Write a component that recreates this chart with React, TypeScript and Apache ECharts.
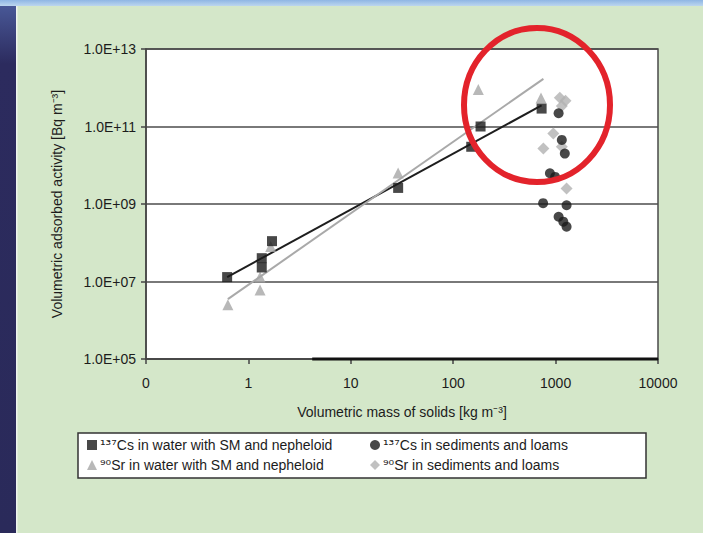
import { useEffect, useRef } from 'react';
import * as echarts from 'echarts';

// Volumetric mass of solids [kg m-3] and volumetric adsorbed activity [Bq m-3]
const CS_WATER_X = [0.62, 1.35, 1.35, 1.7, 29, 150, 185, 730];
const CS_WATER_Y = [1.3e7, 4.0e7, 2.3e7, 1.1e8, 2.6e9, 3.0e10, 1.0e11, 2.9e11];

const SR_WATER_X = [0.63, 1.3, 1.3, 1.65, 29, 176, 720];
const SR_WATER_Y = [2.5e6, 6.0e6, 1.3e7, 8.0e7, 6.3e9, 9.0e11, 5.4e11];

const CS_SED_X = [1070, 1150, 1230, 880, 990, 755, 1280, 1070, 1190, 1280];
const CS_SED_Y = [2.2e11, 4.5e10, 2.0e10, 6.2e9, 5.0e9, 1.05e9, 9.3e8, 4.7e8, 3.5e8, 2.6e8];

const SR_SED_X = [1100, 1250, 1150, 950, 1150, 760, 1280];
const SR_SED_Y = [5.5e11, 4.6e11, 3.4e11, 6.6e10, 3.0e10, 2.7e10, 2.5e9];

// power-law trend lines (straight in log-log)
const CS_TREND_X = [0.62, 730];
const CS_TREND_Y = [1.3e7, 3.5e11];
const SR_TREND_X = [0.63, 760];
const SR_TREND_Y = [3.5e6, 1.7e12];

// heavy segment along the bottom of the plot
const BASE_X = [4.2, 10000];
const BASE_Y = [1e5, 1e5];

const NAMES = [
  '¹³⁷Cs in water with SM and nepheloid',
  '¹³⁷Cs in sediments and loams',
  '⁹⁰Sr in water with SM and nepheloid',
  '⁹⁰Sr in sediments and loams',
];

// y axis shows decades of activity, labelled every second power of ten
const Y_MIN_EXP = 5;
const Y_MAX_EXP = 13;
const yPos = (v: number) => Math.log10(v) - Y_MIN_EXP;
const pairs = (xs: number[], ys: number[]) => xs.map((x, i) => [x, yPos(ys[i])]);

const FONT = 'Liberation Sans, Arial, sans-serif';
const TEXT = '#1c1c1c';

// isotope mass numbers are set in a font that has every superscript digit
const legendFormatter = (name: string) => {
  const m = name.match(/^([⁰¹²³⁴⁵⁶⁷⁸⁹]+)(.*)$/);
  return m ? `{sup|${m[1]}}{t|${m[2]}}` : name;
};

export default function App() {
  const ref = useRef<HTMLDivElement>(null);

  useEffect(() => {
    if (!ref.current) return;
    const chart = echarts.init(ref.current, undefined, { renderer: 'svg' });

    const textStyle = { fontFamily: FONT, fontSize: 14, color: TEXT };
    const legendText = {
      ...textStyle,
      padding: [0, 0, 0, -2],
      rich: {
        sup: { fontFamily: 'DejaVu Sans', fontSize: 14, color: TEXT },
        t: { fontFamily: FONT, fontSize: 14, color: TEXT },
      },
    };

    chart.setOption({
      animation: false,
      backgroundColor: '#d4e7c9',
      textStyle: { fontFamily: FONT },
      grid: {
        left: 146,
        top: 49,
        width: 512,
        height: 310,
        show: true,
        backgroundColor: '#ffffff',
        borderColor: '#4a4a4a',
        borderWidth: 1.5,
      },
      xAxis: {
        type: 'log',
        logBase: 10,
        min: 0.1,
        max: 10000,
        splitNumber: 5,
        name: 'Volumetric mass of solids [kg m⁻³]',
        nameLocation: 'middle',
        nameGap: 46,
        nameTextStyle: textStyle,
        axisLine: { show: true, lineStyle: { color: '#444', width: 1.5 } },
        axisTick: { show: true, inside: false, length: 5, lineStyle: { color: '#444', width: 1.5 } },
        minorTick: { show: false },
        splitLine: { show: false },
        axisLabel: {
          ...textStyle,
          margin: 17,
          formatter: (v: number) => (v < 0.5 ? '0' : String(Math.round(v))),
        },
      },
      yAxis: {
        type: 'value',
        min: 0,
        max: Y_MAX_EXP - Y_MIN_EXP,
        interval: 2,
        name: 'Volumetric adsorbed activity [Bq m⁻³]',
        nameLocation: 'middle',
        nameGap: 82,
        nameTextStyle: textStyle,
        axisLine: { show: true, lineStyle: { color: '#444', width: 1.5 } },
        axisTick: { show: true, inside: false, length: 5, lineStyle: { color: '#444', width: 1.5 } },
        splitLine: { show: true, lineStyle: { color: '#4d4d4d', width: 1.5 } },
        axisLabel: {
          ...textStyle,
          margin: 10,
          formatter: (v: number) => '1.0E+' + String(Math.round(v) + Y_MIN_EXP).padStart(2, '0'),
        },
      },
      legend: [
        {
          orient: 'vertical',
          left: 82,
          top: 433,
          itemGap: 6,
          itemWidth: 10,
          itemHeight: 10,
          data: [NAMES[0], NAMES[2]],
          formatter: legendFormatter,
          textStyle: legendText,
          z: 10,
        },
        {
          orient: 'vertical',
          left: 365,
          top: 433,
          itemGap: 6,
          itemWidth: 10,
          itemHeight: 10,
          data: [NAMES[1], NAMES[3]],
          formatter: legendFormatter,
          textStyle: legendText,
          z: 10,
        },
      ],
      graphic: [
        // slide edge strip and top band
        {
          type: 'rect',
          shape: { x: 0, y: 0, width: 16, height: 533 },
          style: {
            fill: new echarts.graphic.LinearGradient(0, 0, 0, 1, [
              { offset: 0, color: '#4b5c9c' },
              { offset: 0.12, color: '#2c2b5e' },
              { offset: 1, color: '#2a2a5a' },
            ]),
          },
          z: 0,
        },
        { type: 'rect', shape: { x: 16, y: 0, width: 1.5, height: 533 }, style: { fill: '#eef4ee' }, z: 0 },
        {
          type: 'rect',
          shape: { x: 0, y: 0, width: 703, height: 6 },
          style: {
            fill: new echarts.graphic.LinearGradient(0, 0, 0, 1, [
              { offset: 0, color: '#8fb6e4' },
              { offset: 1, color: '#bcd6ee' },
            ]),
          },
          z: 0,
        },
        // legend frame
        {
          type: 'rect',
          shape: { x: 78, y: 433, width: 568, height: 45 },
          style: { fill: '#ffffff', stroke: '#333333', lineWidth: 1.5 },
          z: 0,
        },
        // highlight ring around the dense cluster
        {
          type: 'ellipse',
          shape: { cx: 537, cy: 105, rx: 73, ry: 77 },
          style: { fill: 'none', stroke: '#e3232b', lineWidth: 6 },
          z: 100,
        },
      ],
      series: [
        {
          name: 'Cs trend',
          type: 'line',
          data: pairs(CS_TREND_X, CS_TREND_Y),
          showSymbol: false,
          silent: true,
          lineStyle: { color: '#1e1e1e', width: 2 },
          z: 3,
        },
        {
          name: 'Sr trend',
          type: 'line',
          data: pairs(SR_TREND_X, SR_TREND_Y),
          showSymbol: false,
          silent: true,
          lineStyle: { color: '#a9a9a9', width: 2 },
          z: 3,
        },
        {
          name: 'base',
          type: 'line',
          data: pairs(BASE_X, BASE_Y),
          showSymbol: false,
          silent: true,
          clip: false,
          lineStyle: { color: '#111', width: 3 },
          z: 3,
        },
        {
          name: NAMES[2],
          type: 'scatter',
          symbol: 'triangle',
          symbolSize: 11,
          itemStyle: { color: '#a6a6a6' },
          data: pairs(SR_WATER_X, SR_WATER_Y),
          z: 4,
        },
        {
          name: NAMES[0],
          type: 'scatter',
          symbol: 'rect',
          symbolSize: 10,
          itemStyle: { color: '#1a1a1a' },
          data: pairs(CS_WATER_X, CS_WATER_Y),
          z: 5,
        },
        {
          name: NAMES[3],
          type: 'scatter',
          symbol: 'diamond',
          symbolSize: 12,
          itemStyle: { color: '#b1b1b1' },
          data: pairs(SR_SED_X, SR_SED_Y),
          z: 4,
        },
        {
          name: NAMES[1],
          type: 'scatter',
          symbol: 'circle',
          symbolSize: 10,
          itemStyle: { color: '#1a1a1a' },
          data: pairs(CS_SED_X, CS_SED_Y),
          z: 5,
        },
      ],
    });

    return () => chart.dispose();
  }, []);

  return (
    <div
      ref={ref}
      style={{ position: 'fixed', left: 0, top: 0, width: 703, height: 533 }}
    />
  );
}
